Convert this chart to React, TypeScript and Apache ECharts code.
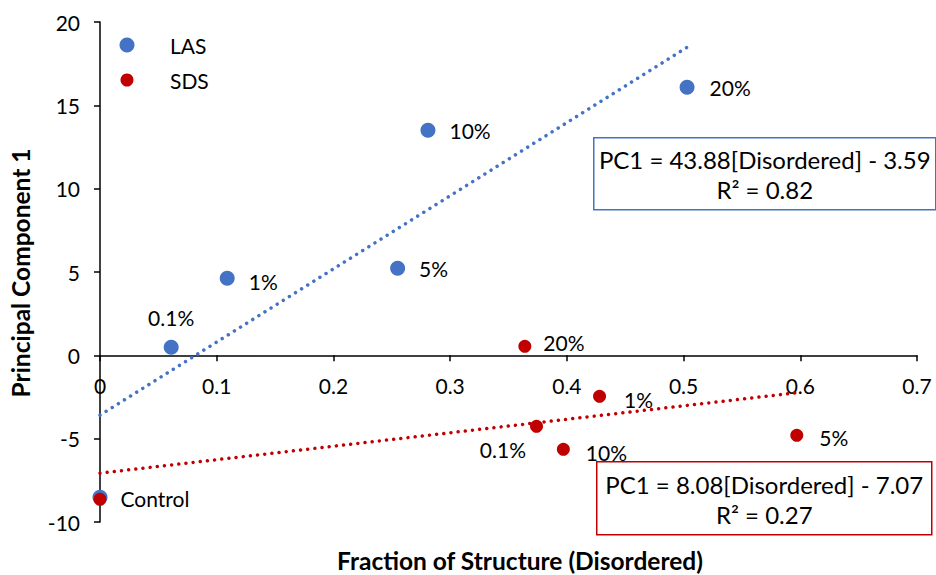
import React, { useEffect, useRef } from "react";
import * as echarts from "echarts";

const lasX = [0, 0.061, 0.109, 0.255, 0.281, 0.503];
const lasY = [-8.52, 0.48, 4.62, 5.22, 13.5, 16.08];
const lasLabels = ["", "0.1%", "1%", "5%", "10%", "20%"];

const sdsX = [0, 0.364, 0.428, 0.374, 0.397, 0.597];
const sdsY = [-8.64, 0.54, -2.46, -4.26, -5.64, -4.8];
const sdsLabels = ["Control", "20%", "1%", "0.1%", "10%", "5%"];

const lasTrend = [[0, -3.59], [0.505, 18.57]];
const sdsTrend = [[0, -7.07], [0.6, -2.22]];

const xTicks = { min: 0, max: 0.7, interval: 0.1 };
const yTicks = { min: -10, max: 20, interval: 5 };

const lasEquation = ["PC1 = 43.88[Disordered] - 3.59", "R² = 0.82"];
const sdsEquation = ["PC1 = 8.08[Disordered] - 7.07", "R² = 0.27"];

const BLUE = "#4472C4";
const RED = "#C00000";
const FONT = "Lato";

// label placement styling (separate from data)
const lasLabelStyle: any[] = [
  { show: false },
  { position: "top", distance: 12 },
  { position: "right", distance: 14, offset: [0, 3] },
  { position: "right", distance: 14 },
  { position: "right", distance: 14 },
  { position: "right", distance: 15 },
];
const sdsLabelStyle: any[] = [
  { position: "right", distance: 14, offset: [0, -1] },
  { position: "right", distance: 12, offset: [0, -4] },
  { position: "right", distance: 18, offset: [0, 3] },
  { position: "left", distance: 4, offset: [0, 23] },
  { position: "right", distance: 16, offset: [0, 3] },
  { position: "right", distance: 16, offset: [0, 2] },
];

export default function App() {
  const ref = useRef<HTMLDivElement>(null);
  useEffect(() => {
    if (!ref.current) return;
    const chart = echarts.init(ref.current, undefined, { renderer: "svg" });
    const labelText = { fontFamily: FONT, fontSize: 21, color: "#000" };
    const lasData = lasX.map((x, i) => ({
      value: [x, lasY[i]],
      label: { show: true, formatter: lasLabels[i], ...labelText, ...lasLabelStyle[i] },
    }));
    const sdsData = sdsX.map((x, i) => ({
      value: [x, sdsY[i]],
      label: { show: true, formatter: sdsLabels[i], ...labelText, ...sdsLabelStyle[i] },
    }));
    const eqBox = (lines: string[], x: number, y: number, w: number, h: number, color: string) => ({
      type: "group",
      left: x,
      top: y,
      children: [
        { type: "rect", shape: { x: 0, y: 0, width: w, height: h }, style: { fill: "#fff", stroke: color, lineWidth: 1.5 } },
        {
          type: "text",
          x: w / 2,
          y: h / 2 + 1,
          style: {
            text: lines.join("\n"),
            fontFamily: FONT,
            fontSize: 24,
            lineHeight: 30,
            fill: "#000",
            align: "center",
            verticalAlign: "middle",
          },
        },
      ],
    });
    chart.setOption({
      animation: false,
      backgroundColor: "#fff",
      grid: { left: 100, top: 22, right: 19, bottom: 53, containLabel: false },
      xAxis: {
        type: "value",
        ...xTicks,
        position: "bottom",
        offset: -166.67,
        axisLine: { onZero: false, lineStyle: { color: "#000", width: 1.5 } },
        axisTick: { show: true, length: 6, lineStyle: { color: "#000", width: 1.5 } },
        axisLabel: { fontFamily: FONT, fontSize: 21, color: "#000", margin: 20, formatter: (v: number) => String(Math.round(v * 10) / 10) },
        splitLine: { show: false },
      },
      yAxis: {
        type: "value",
        ...yTicks,
        axisLine: { show: true, onZero: false, lineStyle: { color: "#000", width: 1.5 } },
        axisTick: { show: true, length: 6, lineStyle: { color: "#000", width: 1.5 } },
        axisLabel: { fontFamily: FONT, fontSize: 21, color: "#000", margin: 20 },
        splitLine: { show: false },
      },
      series: [
        {
          type: "line",
          data: lasTrend,
          symbol: "none",
          lineStyle: { color: BLUE, width: 3.5, type: [0.01, 7.2], cap: "round" },
          z: 1,
        },
        {
          type: "line",
          data: sdsTrend,
          symbol: "none",
          lineStyle: { color: RED, width: 3.5, type: [0.01, 7.2], cap: "round" },
          z: 1,
        },
        { name: "LAS", type: "scatter", data: lasData, symbolSize: 15, itemStyle: { color: BLUE, opacity: 1 }, z: 3 },
        { name: "SDS", type: "scatter", data: sdsData, symbolSize: 13, itemStyle: { color: RED, opacity: 1 }, z: 4 },
      ],
      graphic: [
        { type: "circle", shape: { cx: 127, cy: 45, r: 7.5 }, style: { fill: BLUE } },
        { type: "text", x: 170, y: 45, style: { text: "LAS", fontFamily: FONT, fontSize: 21, fill: "#000", verticalAlign: "middle" } },
        { type: "circle", shape: { cx: 127, cy: 80, r: 6.5 }, style: { fill: RED } },
        { type: "text", x: 170, y: 80, style: { text: "SDS", fontFamily: FONT, fontSize: 21, fill: "#000", verticalAlign: "middle" } },
        eqBox(lasEquation, 593, 137, 342, 72, BLUE),
        eqBox(sdsEquation, 596, 461, 335, 73, RED),
        {
          type: "text",
          x: 20,
          y: 273,
          rotation: Math.PI / 2,
          style: { text: "Principal Component 1", fontFamily: FONT, fontSize: 24.5, fontWeight: "bold", fill: "#000", align: "center", verticalAlign: "middle" },
        },
        {
          type: "text",
          x: 520,
          y: 560,
          style: { text: "Fraction of Structure (Disordered)", fontFamily: FONT, fontSize: 24.5, fontWeight: "bold", fill: "#000", align: "center", verticalAlign: "middle" },
        },
      ],
    });
    return () => chart.dispose();
  }, []);
  return <div ref={ref} style={{ position: "fixed", left: 0, top: 0, width: 936, height: 575 }} />;
}
